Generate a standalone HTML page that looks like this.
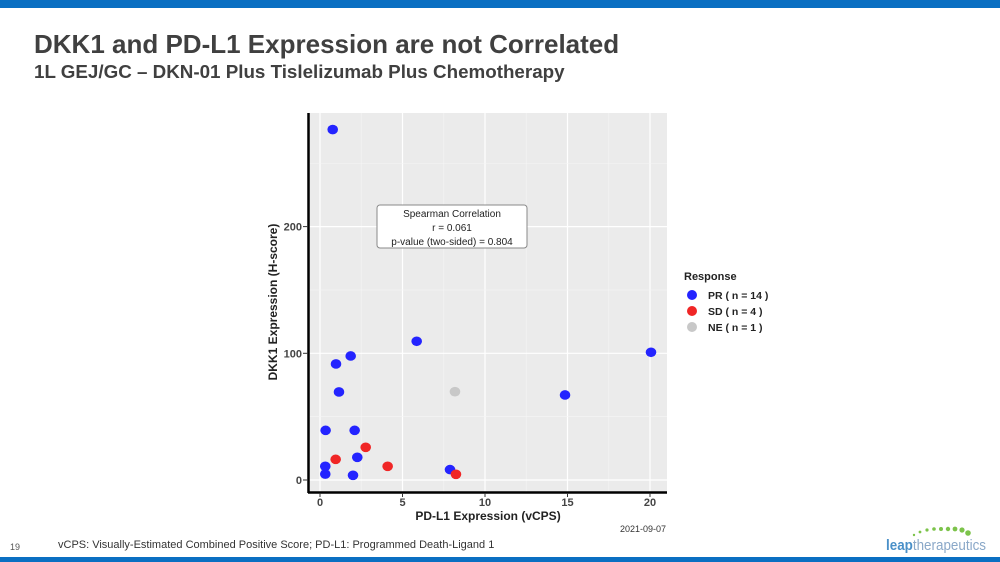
<!DOCTYPE html>
<html><head><meta charset="utf-8"><style>
body{margin:0;width:1000px;height:562px;overflow:hidden;background:#fff;font-family:"Liberation Sans",sans-serif;position:relative}
.abs{position:absolute}
</style></head><body>
<div class="abs" style="left:0;top:0;width:1000px;height:8px;background:#0a6fc2"></div>
<div class="abs" style="left:34px;top:29px;font-size:26px;font-weight:bold;color:#404040">DKK1 and PD-L1 Expression are not Correlated</div>
<div class="abs" style="left:34px;top:61px;font-size:18.8px;font-weight:bold;color:#404040">1L GEJ/GC – DKN-01 Plus Tislelizumab Plus Chemotherapy</div>
<svg class="abs" style="left:0;top:0" width="1000" height="562">
<rect x="309" y="113" width="358" height="379" fill="#ebebeb"/>
<g id="grid"></g>
<line x1="308.5" y1="113" x2="308.5" y2="493" stroke="#000" stroke-width="2.5"/>
<line x1="308" y1="492.5" x2="667" y2="492.5" stroke="#000" stroke-width="2.5"/>
<g id="ticks"></g>
<g id="pts"></g>
<g>
<rect x="377" y="205" width="150" height="43" rx="3" fill="#fff" stroke="#888"/>
<text x="452" y="217" font-size="10" text-anchor="middle" fill="#222">Spearman Correlation</text>
<text x="452" y="231" font-size="10" text-anchor="middle" fill="#222">r = 0.061</text>
<text x="452" y="245" font-size="10" text-anchor="middle" fill="#222">p-value (two-sided) = 0.804</text>
</g>
<text x="488" y="520" font-size="12" font-weight="bold" text-anchor="middle" fill="#222">PD-L1 Expression (vCPS)</text>
<text transform="translate(277,302) rotate(-90)" font-size="12" font-weight="bold" text-anchor="middle" fill="#222">DKK1 Expression (H-score)</text>
<text x="666" y="532" font-size="9" text-anchor="end" fill="#333">2021-09-07</text>
<g>
<text x="684" y="280" font-size="11" font-weight="bold" fill="#222">Response</text>
<g><circle cx="692" cy="295" r="5" fill="#2424ff"/><text x="708" y="299" font-size="10.5" font-weight="bold" fill="#222">PR ( n = 14 )</text></g>
<g><circle cx="692" cy="311" r="5" fill="#f02626"/><text x="708" y="315" font-size="10.5" font-weight="bold" fill="#222">SD ( n = 4 )</text></g>
<g><circle cx="692" cy="327" r="5" fill="#c8c8c8"/><text x="708" y="331" font-size="10.5" font-weight="bold" fill="#222">NE ( n = 1 )</text></g>
</g>
<g>
<text x="886" y="550" font-size="15" fill="#4a90c8" textLength="100" lengthAdjust="spacingAndGlyphs"><tspan font-weight="bold">leap</tspan><tspan fill="#8aa8c8">therapeutics</tspan></text>
<circle cx="914" cy="535" r="1.2" fill="#7cc34a"/><circle cx="920" cy="532" r="1.4" fill="#7cc34a"/><circle cx="927" cy="530" r="1.6" fill="#7cc34a"/><circle cx="934" cy="529" r="1.8" fill="#7cc34a"/><circle cx="941" cy="529" r="2" fill="#7cc34a"/><circle cx="948" cy="529" r="2.2" fill="#7cc34a"/><circle cx="955" cy="529" r="2.4" fill="#7cc34a"/><circle cx="962" cy="530" r="2.6" fill="#7cc34a"/><circle cx="968" cy="533" r="2.8" fill="#7cc34a"/>
</g>
</svg>
<div class="abs" style="left:10px;top:542px;font-size:9px;color:#555">19</div>
<div class="abs" style="left:58px;top:539px;font-size:11px;color:#333">vCPS: Visually-Estimated Combined Positive Score; PD-L1: Programmed Death-Ligand 1</div>
<div class="abs" style="left:0;top:557px;width:1000px;height:5px;background:#0a6fc2"></div>
<script>
const xTicks=[0,5,10,15,20];
const yTicks=[0,100,200];
const prX=[0.77,5.86,20.06,1.86,0.97,1.15,14.85,0.34,2.1,2.26,0.32,0.32,2.0,7.88];
const prY=[276.6,109.5,100.8,97.9,91.6,69.5,67.1,39.2,39.2,17.9,10.8,4.7,3.7,8.2];
const sdX=[0.95,2.77,4.1,8.24];
const sdY=[16.3,25.8,10.8,4.5];
const neX=[8.18];
const neY=[69.7];
const sx=v=>320+v*16.5, sy=v=>480-v*1.267;
const NS="http://www.w3.org/2000/svg";
const grid=document.getElementById('grid'),ticks=document.getElementById('ticks'),pts=document.getElementById('pts');
function mk(t,a,p){const e=document.createElementNS(NS,t);for(const k in a)e.setAttribute(k,a[k]);p.appendChild(e);return e;}
for(let i=0;i<xTicks.length;i++){const v=xTicks[i];
 if(i>0)mk('line',{x1:sx(v-2.5),x2:sx(v-2.5),y1:113,y2:492,stroke:'#f5f5f5','stroke-width':0.6},grid);
 mk('line',{x1:sx(v),x2:sx(v),y1:113,y2:492,stroke:'#fff','stroke-width':1.2},grid);
 mk('line',{x1:sx(v),x2:sx(v),y1:493,y2:497,stroke:'#333'},ticks);
 const t=mk('text',{x:sx(v),y:506,'font-size':11,'font-weight':'bold','text-anchor':'middle',fill:'#444'},ticks);t.textContent=v;
 
 }
for(let i=0;i<yTicks.length;i++){const v=yTicks[i];
 mk('line',{x1:309,x2:667,y1:sy(v+50),y2:sy(v+50),stroke:'#f5f5f5','stroke-width':0.6},grid);
 mk('line',{x1:309,x2:667,y1:sy(v),y2:sy(v),stroke:'#fff','stroke-width':1.2},grid);
 mk('line',{x1:303,x2:308,y1:sy(v),y2:sy(v),stroke:'#333'},ticks);
 const t=mk('text',{x:302,y:sy(v)+4,'font-size':11,'font-weight':'bold','text-anchor':'end',fill:'#444'},ticks);t.textContent=v;
 
 }
function series(X,Y,c,n){for(let i=0;i<X.length;i++){const e=mk('ellipse',{cx:sx(X[i]),cy:sy(Y[i]),rx:5.3,ry:4.8,fill:c},pts);
 
 }}
series(neX,neY,'#c8c8c8','point-ne');
series(prX,prY,'#2424ff','point-pr');
series(sdX,sdY,'#f02626','point-sd');
</script>
</body></html>
